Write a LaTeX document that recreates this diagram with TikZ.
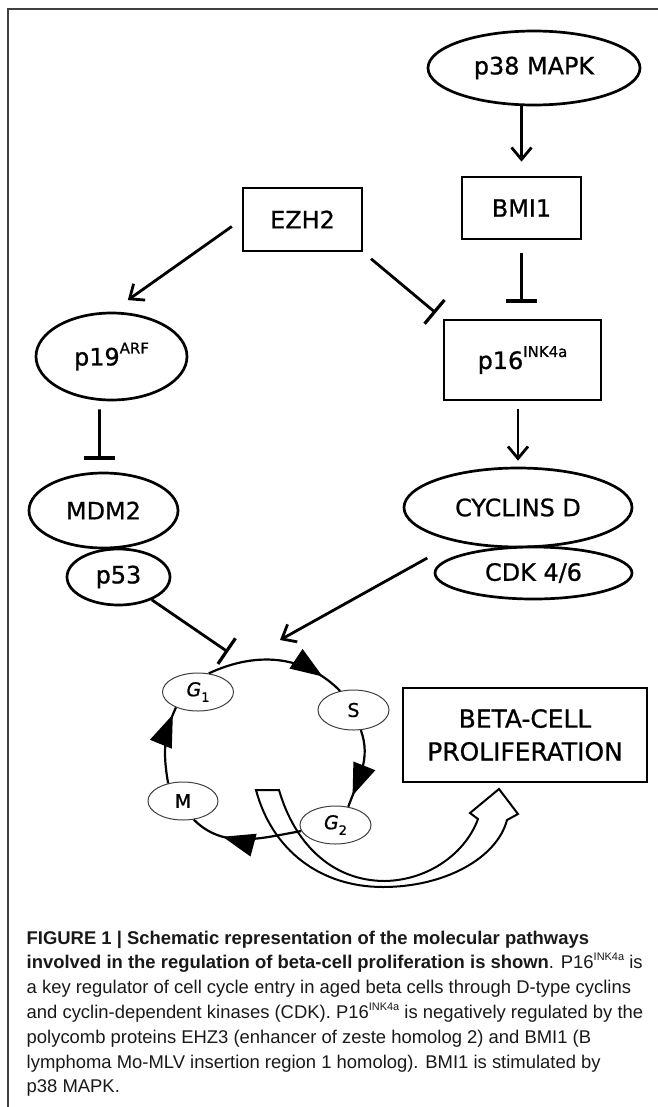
\documentclass[tikz,border=0pt]{standalone}
\usepackage{fontspec}
\newfontfamily\dfont[FakeBold=0.8]{DejaVu Sans}
\newfontfamily\capfont{Liberation Sans}
\usetikzlibrary{arrows.meta,shapes.geometric,decorations.markings}
\newcommand{\dsup}[1]{\raisebox{0.5em}{\fontsize{15}{15}\selectfont #1}}
\newcommand{\csup}[1]{\raisebox{0.45em}{\fontsize{11}{11}\selectfont #1}}
\newcommand{\phs}[2]{{\itshape #1}\raisebox{-0.3em}{\fontsize{13}{13}\selectfont #2}}
\begin{document}
\begin{tikzpicture}[x=1bp,y=1bp,
  lbl/.style={font=\dfont\fontsize{24}{26}\selectfont, text=black},
  oval/.style={ellipse, draw, line width=2.7bp, fill=white, inner sep=0pt, lbl},
  box/.style={rectangle, draw, line width=2.7bp, fill=white, inner sep=0pt, lbl},
  phase/.style={ellipse, draw=black!75, line width=1bp, fill=white, inner sep=0pt,
    minimum width=71bp, minimum height=38bp, font=\dfont\fontsize{19}{20}\selectfont},
  act/.style={line width=2.8bp, -{Straight Barb[length=12bp,width=20bp,line width=2.8bp]}},
  inh/.style={line width=2.8bp, -{Bar[width=31bp,line width=3.2bp]}},
  cyc/.style={line width=2.2bp, postaction={decorate},
    decoration={markings, mark=at position #1 with {\arrow{Triangle[length=32bp,width=23bp]}}}},
  hollow/.style={line width=2bp, line join=miter},
  captxt/.style={anchor=base west, inner sep=0pt, font=\capfont\fontsize{18.5}{24.8}\selectfont, text=black!90}
]
\useasboundingbox (0,0) rectangle (658,-1107);
\fill[white] (0,0) rectangle (658,-1107);
\draw[line width=1.3bp, black!75] (8,-1107) -- (8,-9) -- (658,-9);

% upper nodes
\node[oval, minimum width=212bp, minimum height=74bp] (p38) at (534,-68) {p38 MAPK};
\node[box, minimum width=119bp, minimum height=62bp] (BMI1) at (521.5,-208) {BMI1};
\node[box, minimum width=119bp, minimum height=63bp] (EZH2) at (302.5,-219.5) {EZH2};
\node[box, minimum width=157bp, minimum height=80bp] (p16) at (522.5,-360) {p16\dsup{INK4a}};
\node[oval, minimum width=151bp, minimum height=87bp] (p19) at (111.5,-356.5) {p19\dsup{ARF}};
\node[oval, minimum width=149bp, minimum height=75bp] (MDM2) at (103.5,-510.5) {MDM2};
\node[oval, minimum width=103bp, minimum height=56bp] (p53) at (118.5,-577) {p53};
\node[oval, minimum width=228bp, minimum height=79bp] (cyc) at (518,-507.5) {CYCLINS D};
\node[oval, minimum width=197bp, minimum height=52bp] (cdk) at (533.5,-573) {CDK 4/6};
\node[box, minimum width=244bp, minimum height=94bp, align=center,
  font=\dfont\fontsize{25}{33}\selectfont] (beta) at (525,-735) {BETA-CELL\\PROLIFERATION};

\coordinate (g1bar) at (228,-652);
\coordinate (cycin) at (280,-640);

% connectors
\draw[act, shorten >=14bp] (BMI1.north |- p38.south) -- (BMI1.north);
\draw[inh, shorten <=13bp, shorten >=16bp] (BMI1.south) -- (p16.north -| BMI1.south);
\draw[act, shorten <=12bp, shorten >=20bp] (EZH2.west) -- (p19.north);
\draw[inh, shorten <=10bp, shorten >=9bp] (EZH2.south east) -- (p16.north west);
\draw[act, shorten <=8bp, shorten >=6bp] (p16.south -| cyc.north) -- (cyc.north);
\draw[inh, shorten <=8bp, shorten >=12bp] ([xshift=-12bp]p19.south) -- ([xshift=-4bp]MDM2.north);
\draw[inh] (p53) -- (g1bar);
\draw[act, shorten <=33bp] (cyc) -- (cycin);

% hollow curved arrow
\draw[hollow] (256,-790) .. controls (272,-850) and (320,-887) .. (383,-887)
  .. controls (445,-887) and (497,-858) .. (507,-820) -- (518,-814) -- (499,-789)
  -- (470,-813) -- (478,-819) .. controls (466,-852) and (430,-880) .. (385,-881)
  .. controls (333,-881) and (295,-845) .. (279,-790) -- cycle;

% cell cycle
\node[phase] (G1) at (198,-692) {\phs{G}{1}};
\node[phase, minimum height=40bp] (S) at (353.5,-710) {S};
\node[phase] (G2) at (335.5,-825) {\phs{G}{2}};
\node[phase, minimum width=70bp] (M) at (183,-801) {M};

\draw[cyc=0.84] (G1.60) to[out=25, in=135] (S.125);
\draw[cyc=0.85] (S.-70) to[out=-70, in=70] (G2.55);
\draw[cyc=0.7] (G2.190) to[out=190, in=-45] (M.-60);
\draw[cyc=0.9] (M.130) to[out=100, in=-115] (G1.215);

% caption
\node[captxt] (c1) at (26.5,-944) {\bfseries FIGURE 1 | Schematic representation of the molecular pathways};
\node[captxt] (c2) at (26.5,-968.8) {\textbf{involved in the regulation of beta-cell proliferation is shown}. P16\csup{INK4a} is};
\node[captxt] (c3) at (26.5,-993.6) {a key regulator of cell cycle entry in aged beta cells through D-type cyclins};
\node[captxt] (c4) at (26.5,-1018.4) {and cyclin-dependent kinases (CDK). P16\csup{INK4a} is negatively regulated by the};
\node[captxt] (c5) at (26.5,-1043.2) {polycomb proteins EHZ3 (enhancer of zeste homolog 2) and BMI1 (B};
\node[captxt] (c6) at (26.5,-1068) {lymphoma Mo-MLV insertion region 1 homolog). BMI1 is stimulated by};
\node[captxt] (c7) at (26.5,-1092.8) {p38 MAPK.};
\end{tikzpicture}
\end{document}
